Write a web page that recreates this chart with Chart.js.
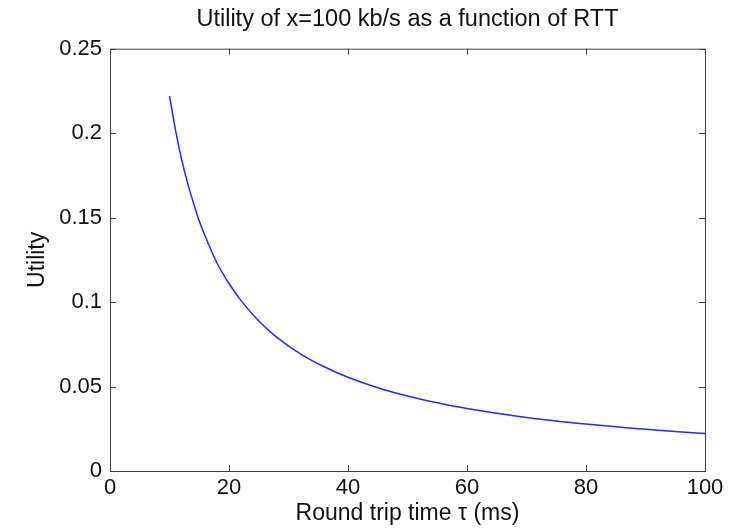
<!DOCTYPE html>
<html lang="en">
<head>
  <meta charset="UTF-8" />
  <title>Utility vs RTT</title>
  <script src="https://cdn.jsdelivr.net/npm/chart.js"></script>
  <style>
    * { box-sizing: border-box; }
    body { margin: 0; background: #fff; }
    canvas { display: block; }
  </style>
</head>
<body>
  <canvas id="utilChart" width="744" height="529"></canvas>

  <script>
    // RTT values (ms) and utility
    const rtt = [10, 11, 12, 13, 14, 15, 16, 18, 20, 22, 25, 28, 32, 36, 40, 45, 50, 55, 60, 70, 80, 90, 100];
    const utility = [0.222, 0.202, 0.185, 0.171, 0.159, 0.148, 0.139, 0.123, 0.111, 0.101, 0.0888, 0.0793, 0.0694, 0.0617, 0.0555, 0.0493, 0.0444, 0.0404, 0.037, 0.0317, 0.0278, 0.0247, 0.0222];
    const xTicks = [0, 20, 40, 60, 80, 100];
    const yTicks = [0, 0.05, 0.1, 0.15, 0.2, 0.25];

    const axisColor = '#404040';
    const fontFamily = "'Liberation Sans', Arial, sans-serif";

    // MATLAB-like box with inward tick marks on all four sides
    const boxPlugin = {
      id: 'boxTicks',
      afterDraw(chart) {
        const { ctx, chartArea: a, scales: { x, y } } = chart;
        ctx.save();
        ctx.strokeStyle = axisColor;
        ctx.lineWidth = 1;
        ctx.strokeRect(a.left + 0.5, a.top + 0.5, a.right - a.left, a.bottom - a.top);
        const len = 6;
        ctx.beginPath();
        xTicks.forEach(v => {
          const px = Math.round(x.getPixelForValue(v)) + 0.5;
          ctx.moveTo(px, a.bottom); ctx.lineTo(px, a.bottom - len);
          ctx.moveTo(px, a.top); ctx.lineTo(px, a.top + len);
        });
        yTicks.forEach(v => {
          const py = Math.round(y.getPixelForValue(v)) + 0.5;
          ctx.moveTo(a.left, py); ctx.lineTo(a.left + len, py);
          ctx.moveTo(a.right, py); ctx.lineTo(a.right - len, py);
        });
        ctx.stroke();
        ctx.restore();
      }
    };

    new Chart(document.getElementById('utilChart'), {
      type: 'line',
      data: {
        datasets: [{
          data: rtt.map((t, i) => ({ x: t, y: utility[i] })),
          borderColor: '#2828ff',
          borderWidth: 1.5,
          pointRadius: 0,
          cubicInterpolationMode: 'monotone',
          fill: false
        }]
      },
      options: {
        responsive: false,
        animation: false,
        devicePixelRatio: 1,
        layout: { padding: { top: 0, right: 39, bottom: 0, left: 0 } },
        plugins: {
          legend: { display: false },
          tooltip: { enabled: false },
          title: {
            display: true,
            fullSize: false,
            text: 'Utility of x=100 kb/s as a function of RTT',
            color: '#111',
            font: { family: fontFamily, size: 23.5, weight: 'normal' },
            padding: { top: 5, bottom: 15.5 }
          }
        },
        scales: {
          x: {
            type: 'linear',
            min: 0, max: 100,
            afterBuildTicks: s => { s.ticks = xTicks.map(v => ({ value: v })); },
            afterFit: s => { s.height = 58; },
            grid: { display: false, drawTicks: false },
            border: { display: false },
            ticks: {
              color: '#111',
              padding: 4,
              autoSkip: false,
              maxRotation: 0,
              font: { family: fontFamily, size: 22 },
              callback: v => String(v)
            },
            title: {
              display: true,
              text: 'Round trip time \u03c4 (ms)',
              color: '#111',
              font: { family: fontFamily, size: 23 },
              padding: { top: 0, bottom: 2 }
            }
          },
          y: {
            type: 'linear',
            min: 0, max: 0.25,
            afterBuildTicks: s => { s.ticks = yTicks.map(v => ({ value: v })); },
            afterFit: s => { s.width = 110; },
            grid: { display: false, drawTicks: false },
            border: { display: false },
            ticks: {
              color: '#111',
              padding: 8,
              autoSkip: false,
              font: { family: fontFamily, size: 22 },
              callback: v => String(v)
            },
            title: {
              display: true,
              text: 'Utility',
              color: '#111',
              font: { family: fontFamily, size: 23 },
              padding: { top: 24, bottom: 0 }
            }
          }
        }
      },
      plugins: [boxPlugin]
    });
  </script>
</body>
</html>
